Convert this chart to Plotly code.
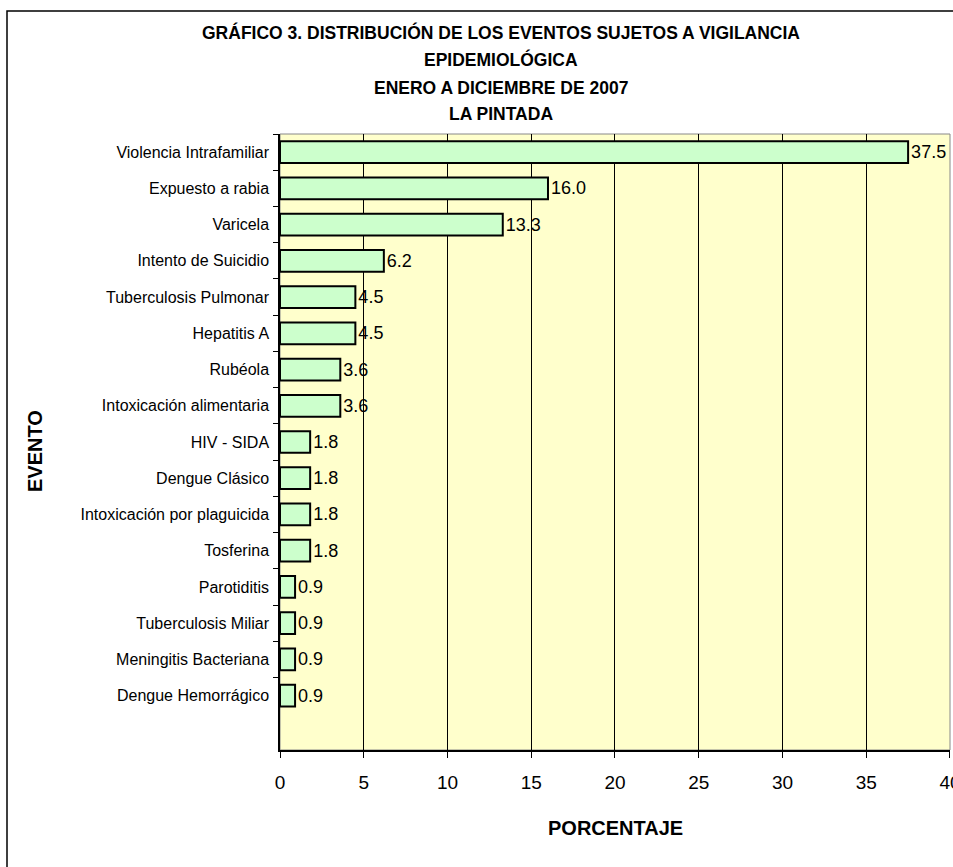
import plotly.graph_objects as go

categorias = [
    "Violencia Intrafamiliar", "Expuesto a rabia", "Varicela", "Intento de Suicidio",
    "Tuberculosis Pulmonar", "Hepatitis A", "Rubéola", "Intoxicación alimentaria",
    "HIV - SIDA", "Dengue Clásico", "Intoxicación por plaguicida", "Tosferina",
    "Parotiditis", "Tuberculosis Miliar", "Meningitis Bacteriana", "Dengue Hemorrágico",
]
porcentajes = [37.5, 16.0, 13.3, 6.2, 4.5, 4.5, 3.6, 3.6, 1.8, 1.8, 1.8, 1.8, 0.9, 0.9, 0.9, 0.9]
x_ticks = [0, 5, 10, 15, 20, 25, 30, 35, 40]
titulo = [
    "GRÁFICO 3. DISTRIBUCIÓN DE LOS EVENTOS SUJETOS A VIGILANCIA",
    "EPIDEMIOLÓGICA",
    "ENERO A DICIEMBRE DE 2007",
    "LA PINTADA",
]

FONT = "Liberation Sans, Arial, sans-serif"

fig = go.Figure()
fig.add_trace(go.Bar(
    y=categorias, x=porcentajes, orientation="h",
    marker=dict(color="#CCFFCC", line=dict(color="black", width=2)),
    width=0.6,
    text=[f"{v:.1f}" for v in porcentajes],
    textposition="outside", cliponaxis=False,
    textfont=dict(family=FONT, size=18, color="black"),
))

L, R, T, B = 280, 3, 134, 117
W, H = 953, 867
pw, ph = W - L - R, H - T - B

def px_x(x):
    return (x - L) / pw

def px_y(y):
    return (H - B - y) / ph

annotations = []
title_y = [32.5, 59.5, 87.5, 114]
for txt, yy in zip(titulo, title_y):
    annotations.append(dict(text=f"<b>{txt}</b>", x=px_x(501), y=px_y(yy), xref="paper", yref="paper",
                            showarrow=False, xanchor="center", yanchor="middle",
                            font=dict(family=FONT, size=17.5, color="black")))
annotations.append(dict(text="<b>EVENTO</b>", x=px_x(35), y=px_y(451), xref="paper", yref="paper",
                        showarrow=False, textangle=-90, xanchor="center", yanchor="middle",
                        font=dict(family=FONT, size=20, color="black")))
annotations.append(dict(text="<b>PORCENTAJE</b>", x=px_x(615), y=px_y(828), xref="paper", yref="paper",
                        showarrow=False, xanchor="center", yanchor="middle",
                        font=dict(family=FONT, size=20, color="black")))

fig.update_layout(
    width=W, height=H,
    margin=dict(l=L, r=R, t=T, b=B, pad=0, autoexpand=False),
    paper_bgcolor="white", plot_bgcolor="#FFFFCC",
    showlegend=False,
    font=dict(family=FONT, color="black"),
    annotations=annotations,
    shapes=[dict(type="rect", xref="paper", yref="paper",
                 x0=px_x(7), x1=px_x(1000), y0=px_y(900), y1=px_y(11),
                 line=dict(color="black", width=1.5), fillcolor="rgba(0,0,0,0)", layer="below"),
            dict(type="rect", xref="paper", yref="paper", x0=0, x1=1, y0=0, y1=1,
                 line=dict(color="#888888", width=1), layer="below")],
)
fig.update_xaxes(
    range=[0, 40.001], tickvals=x_ticks, ticktext=[str(v) for v in x_ticks],
    showgrid=True, gridcolor="black", gridwidth=1,
    showline=True, linecolor="black", linewidth=1.5,
    ticks="outside", ticklen=6, tickcolor="black",
    tickfont=dict(family=FONT, size=19), ticklabelstandoff=8,
    ticklabeloverflow="allow", automargin=False,
    zeroline=False, fixedrange=True,
)
fig.update_yaxes(
    type="category", categoryorder="array", categoryarray=categorias,
    range=[16.5, -0.5], tickson="boundaries",
    showline=True, linecolor="black", linewidth=1.5,
    ticks="outside", ticklen=5, tickcolor="black",
    tickfont=dict(family=FONT, size=16), ticklabelstandoff=6,
    automargin=False,
    showgrid=False, zeroline=False,
)

fig.write_html("out.html")
